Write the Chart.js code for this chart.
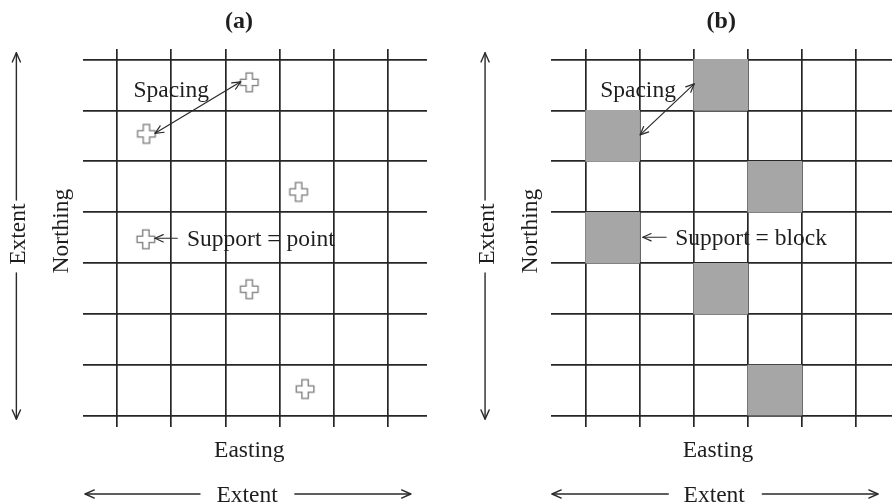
<!DOCTYPE html>
<html><head><meta charset="utf-8">
<script src="https://cdn.jsdelivr.net/npm/chart.js@4/dist/chart.umd.min.js"></script>
<style>
html,body{margin:0;padding:0;background:#fff;}
#wrap{position:relative;width:892px;height:504px;overflow:hidden;background:#fff;}
canvas{position:absolute;top:0;}
</style></head><body>
<div id="wrap">
<canvas id="pa" width="446" height="504" style="left:0"></canvas>
<canvas id="pb" width="446" height="504" style="left:446px"></canvas>
</div>
<script>
// Cell boundaries of the sampling grid
const eastingLines = [0, 1, 2, 3, 4, 5];
const northingLines = [0, 1, 2, 3, 4, 5, 6, 7];

// (a) point-support samples
const pointEasting  = [2.44, 0.54, 3.35, 0.53, 2.44, 3.47];
const pointNorthing = [6.55, 5.54, 4.40, 3.47, 2.49, 0.53];

// (b) block-support samples: cell centre (easting), lower and upper edge (northing)
const blockEasting      = [2.5, 0.5, 3.5, 0.5, 2.5, 3.5];
const blockNorthingFrom = [6, 5, 4, 3, 2, 0];
const blockNorthingTo   = [7, 6, 5, 4, 3, 1];

// Text labels
const panelTitles = ['(a)', '(b)'];
const supportLabels = ['Support = point', 'Support = block'];
const spacingLabel = 'Spacing';
const eastingLabel = 'Easting';
const northingLabel = 'Northing';
const extentLabel = 'Extent';

const INK = '#1e1e1e';
const SERIF = '"Liberation Serif", "Times New Roman", serif';
const LABEL_FONT = '23.5px ' + SERIF;

// Outlined plus used as the point marker
function makeCross() {
  const c = document.createElement('canvas');
  c.width = 22; c.height = 23;
  const g = c.getContext('2d');
  const cx = 11, cy = 11.5, a = 3.2, W = 8.8, H = 9.4;
  g.beginPath();
  const pts = [[-a,-H],[a,-H],[a,-a],[W,-a],[W,a],[a,a],[a,H],[-a,H],[-a,a],[-W,a],[-W,-a],[-a,-a]];
  pts.forEach((p, i) => i ? g.lineTo(cx + p[0], cy + p[1]) : g.moveTo(cx + p[0], cy + p[1]));
  g.closePath();
  g.fillStyle = '#fff';
  g.fill();
  g.strokeStyle = '#7a7a7a';
  g.lineWidth = 1.3;
  g.stroke();
  return c;
}

function head(ctx, x1, y1, x2, y2, len) {
  const t = Math.atan2(y2 - y1, x2 - x1), s = 0.42;
  ctx.beginPath();
  ctx.moveTo(x2 - len * Math.cos(t - s), y2 - len * Math.sin(t - s));
  ctx.lineTo(x2, y2);
  ctx.lineTo(x2 - len * Math.cos(t + s), y2 - len * Math.sin(t + s));
  ctx.stroke();
}
function line(ctx, x1, y1, x2, y2) {
  ctx.beginPath(); ctx.moveTo(x1, y1); ctx.lineTo(x2, y2); ctx.stroke();
}

// Labels and arrows placed in data units of each panel
const layouts = [
  { title: 2.25, spacingText: [0.30, 6.26], spacingArrow: [0.70, 5.55, 2.28, 6.56],
    supportText: [1.29, 3.34], supportArrow: [1.11, 0.70, 3.49],
    easting: 2.44, extentX: [-0.59, 1.53, 3.28, 5.42, 2.40] },
  { title: 2.51, spacingText: [0.27, 6.26], spacingArrow: [1.01, 5.52, 2.01, 6.52],
    supportText: [1.66, 3.35], supportArrow: [1.49, 1.06, 3.51],
    easting: 2.45, extentX: [-0.62, 1.53, 3.27, 5.41, 2.38] }
];

const annotations = {
  id: 'annotations',
  afterDraw(chart) {
    const k = chart.options.plugins.annotations.panel;
    const L = layouts[k];
    const ctx = chart.ctx, xs = chart.scales.x, ys = chart.scales.y;
    const X = v => xs.getPixelForValue(v), Y = v => ys.getPixelForValue(v);
    ctx.save();
    ctx.fillStyle = INK;
    ctx.strokeStyle = '#2a2a2a';
    ctx.lineCap = 'round';
    ctx.lineJoin = 'round';

    // panel title
    ctx.font = 'bold 24px ' + SERIF;
    ctx.textAlign = 'center';
    ctx.textBaseline = 'alphabetic';
    ctx.fillText(panelTitles[k], X(L.title), Y(7.61));

    ctx.font = LABEL_FONT;
    // spacing
    ctx.textAlign = 'left';
    ctx.fillText(spacingLabel, X(L.spacingText[0]), Y(L.spacingText[1]));
    const s = L.spacingArrow;
    ctx.lineWidth = 1.2;
    line(ctx, X(s[0]), Y(s[1]), X(s[2]), Y(s[3]));
    head(ctx, X(s[0]), Y(s[1]), X(s[2]), Y(s[3]), 9);
    head(ctx, X(s[2]), Y(s[3]), X(s[0]), Y(s[1]), 9);

    // support
    ctx.fillText(supportLabels[k], X(L.supportText[0]), Y(L.supportText[1]));
    const a = L.supportArrow;
    line(ctx, X(a[0]), Y(a[2]), X(a[1]), Y(a[2]));
    head(ctx, X(a[0]), Y(a[2]), X(a[1]), Y(a[2]), 9);

    // easting axis label
    ctx.textAlign = 'center';
    ctx.fillText(eastingLabel, X(L.easting), Y(-0.80));

    // horizontal extent
    const e = L.extentX, ey = Y(-1.53);
    ctx.lineWidth = 1.4;
    line(ctx, X(e[0]), ey, X(e[1]), ey);
    head(ctx, X(e[1]), ey, X(e[0]), ey, 10);
    line(ctx, X(e[2]), ey, X(e[3]), ey);
    head(ctx, X(e[2]), ey, X(e[3]), ey, 10);
    ctx.fillText(extentLabel, X(e[4]), Y(-1.69));

    // northing axis label
    ctx.save();
    ctx.translate(X(-0.90), Y(3.63));
    ctx.rotate(-Math.PI / 2);
    ctx.fillText(northingLabel, 0, 0);
    ctx.restore();

    // vertical extent
    const vx = X(-1.86);
    line(ctx, vx, Y(4.24), vx, Y(7.13));
    head(ctx, vx, Y(4.24), vx, Y(7.13), 10);
    line(ctx, vx, Y(2.81), vx, Y(-0.06));
    head(ctx, vx, Y(2.81), vx, Y(-0.06), 10);
    ctx.save();
    ctx.translate(X(-1.70), Y(3.57));
    ctx.rotate(-Math.PI / 2);
    ctx.fillText(extentLabel, 0, 0);
    ctx.restore();

    ctx.restore();
  }
};

function gridScale(min, max, lines) {
  return {
    type: 'linear', min, max, offset: false, z: 1,
    afterBuildTicks: s => { s.ticks = lines.map(v => ({ value: v })); },
    ticks: { display: false },
    border: { display: false },
    grid: { color: '#262626', lineWidth: 1.7, drawTicks: false, offset: false }
  };
}

function baseOptions(panel, pad, xMin, xMax) {
  return {
    responsive: false, animation: false, devicePixelRatio: 1, events: [],
    layout: { padding: pad },
    plugins: { legend: { display: false }, tooltip: { enabled: false }, annotations: { panel } },
    scales: { x: gridScale(xMin, xMax, eastingLines), y: gridScale(-0.215, 7.205, northingLines) }
  };
}

// (a) point support
new Chart(document.getElementById('pa'), {
  type: 'scatter',
  data: {
    datasets: [{
      data: pointEasting.map((x, i) => ({ x, y: pointNorthing[i] })),
      pointStyle: makeCross(), pointRadius: 9
    }]
  },
  options: baseOptions(0, { left: 83, right: 19, top: 49, bottom: 77 }, -0.63, 5.72),
  plugins: [annotations]
});

// (b) block support
new Chart(document.getElementById('pb'), {
  type: 'bar',
  data: {
    datasets: [{
      data: blockEasting.map((x, i) => ({ x, y: [blockNorthingFrom[i], blockNorthingTo[i]] })),
      backgroundColor: '#a6a6a6', borderWidth: 0,
      barPercentage: 1, categoryPercentage: 1
    }]
  },
  options: baseOptions(1, { left: 105, right: 0, top: 49, bottom: 77 }, -0.64, 5.67),
  plugins: [annotations]
});
</script>
</body></html>
